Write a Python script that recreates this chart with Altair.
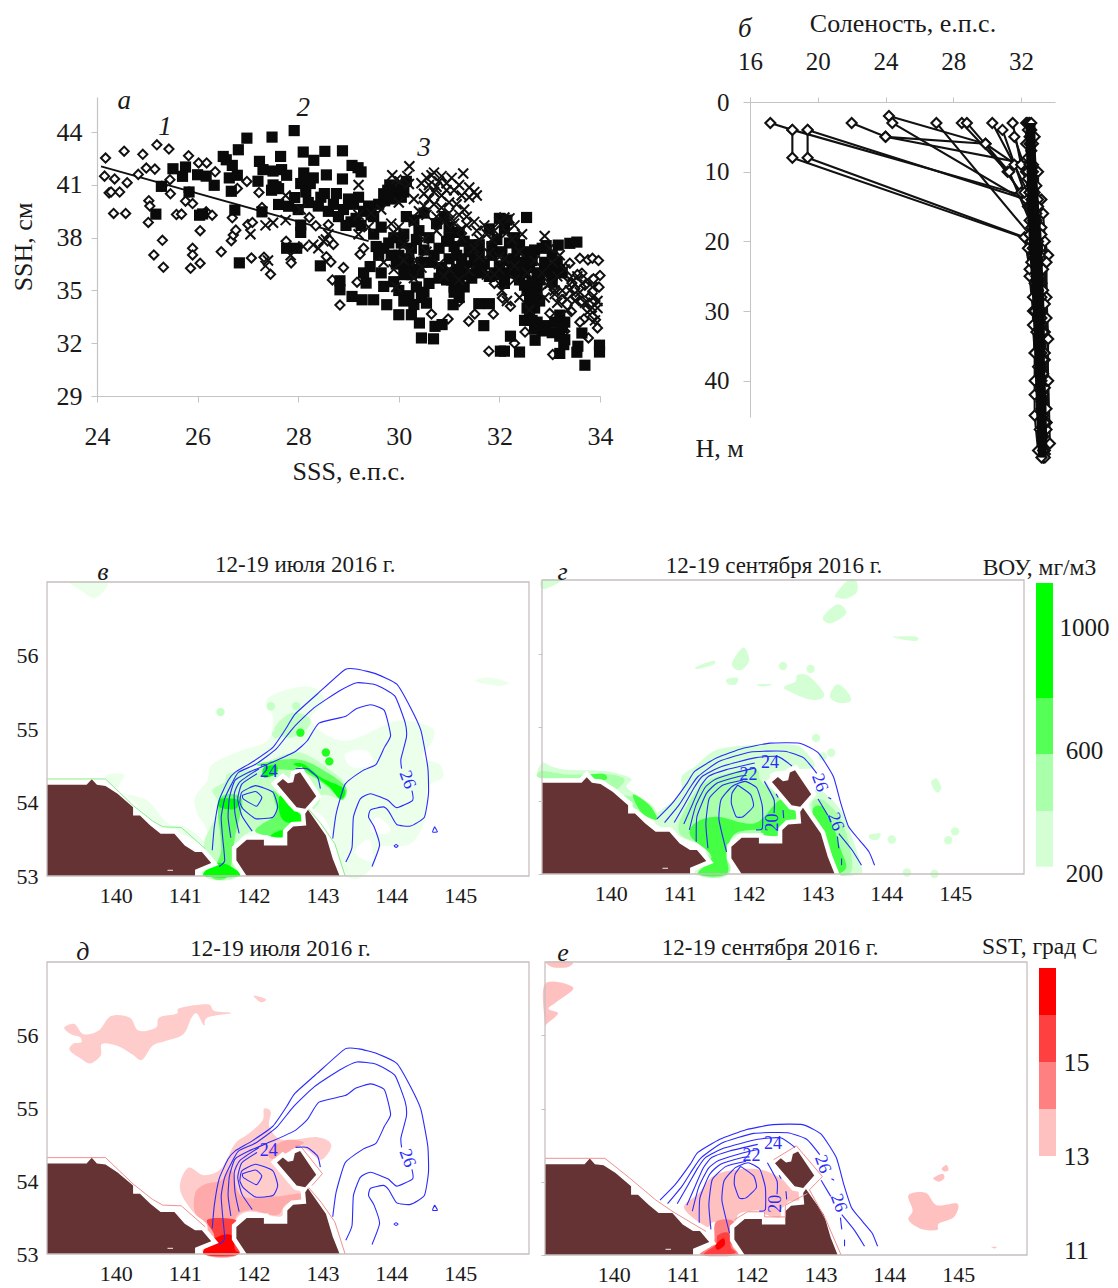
import altair as alt
import pandas as pd

# ---------- panel a: SSS / SSH scatter ----------
DIAMONDS = [(24.17,42.53),(24.15,41.5),(24.35,41.34),(24.6,41.13),(24.54,42.92),(24.91,42.74),(24.82,41.6),(24.98,41.96),
(25.15,41.9),(25.19,43.28),(25.43,43.04),(25.45,41.3),(24.24,40.55),(24.28,40.6),(24.45,40.6),(24.33,39.38),(24.57,39.38),
(25.03,40.1),(25.05,39.8),(25.02,38.87),(25.29,40.92),(25.46,40.5),(25.13,37.02),(25.3,37.85),(25.32,36.32),(25.58,39.32),
(25.68,39.34),(25.76,40.08),(25.9,39.94),(25.83,40.6),(25.82,42.66),(26.02,42.25),(26.18,42.25),(26.35,41.75),(26.17,39.47),
(26.29,39.28),(26.05,38.4),(25.9,37.4),(25.9,37.02),(25.86,36.26),(26.05,36.55),(26.47,37.2),(26.67,37.83),(26.71,38.15),
(26.76,38.43),(26.69,39.13),(26.79,40.8),(26.98,41.2),(27.0,38.75),(27.09,38.87),(27.07,36.85),(27.22,40.57),(27.28,39.72),
(27.32,36.89),(27.45,35.92),(27.76,37.8),(27.86,36.57),(28.22,39.15),(28.35,38.68),(28.56,36.92),(28.65,36.62),(28.7,37.62),
(28.6,38.74),(28.68,35.6),(28.9,36.3),(28.83,34.17),(29.17,35.47),(29.23,37.06),(29.3,37.4),(30.65,33.66),(30.98,33.38),
(31.2,34.38),(31.39,33.25),(31.51,33.66),(31.79,31.55),(31.88,33.66),(32.3,32.0),(32.51,32.64),(33.06,31.36),(33.4,36.55),
(33.6,36.83),(33.64,35.98),(33.44,35.42),(33.43,33.8),(33.3,32.68),(33.68,33.38),(33.77,32.3),(33.76,36.74),(33.85,36.83),
(33.97,36.7),(34.0,35.85),(33.87,35.66),(33.98,35.19),(33.8,34.66),(33.64,34.38),(33.83,33.8),(33.95,32.87),(33.91,33.34),
(33.52,34.66),(31.9,35.4),(32.06,34.57),(32.22,34.1),(32.7,34.85),(33.09,35.04),(33.24,34.47),(33.0,33.7),(33.55,35.9),
(33.7,35.3),(33.35,35.8),(33.9,34.4),(33.75,34.0),(33.5,35.1),(33.6,33.2),(33.85,33.5)]

SQUARES = [(27.92,44.09),(26.98,43.66),(27.48,43.72),(28.1,42.87),(28.53,42.91),(28.88,42.94),(28.31,42.4),(27.65,42.62),
(26.81,43.0),(26.51,42.62),(26.57,42.43),(26.69,42.11),(27.23,42.34),(27.3,41.87),(27.5,41.79),(27.67,41.87),(27.77,41.55),
(26.63,41.4),(26.79,41.55),(26.0,41.58),(26.17,41.5),(25.51,41.92),(25.76,42.02),(25.7,41.49),(26.33,40.98),(27.2,41.21),
(26.67,40.64),(26.74,39.57),(27.47,40.7),(27.61,40.79),(27.5,41.0),(27.56,40.9),(28.11,41.68),(28.17,41.26),(28.05,41.08),
(28.24,41.08),(28.56,41.57),(28.88,41.34),(29.07,42.11),(29.19,41.98),(29.25,41.74),(28.52,40.51),(28.76,40.51),(27.93,40.28),
(27.61,39.89),(27.81,39.79),(27.28,39.47),(25.17,39.34),(25.28,40.92),(26.04,39.28),(26.1,39.35),(25.83,40.6),(26.83,36.57),
(28.05,38.3),(28.05,38.72),(27.77,37.4),(27.97,37.4),(28.44,36.4),(28.83,35.55),(28.83,35.04),(29.07,34.66),(29.27,34.47),
(29.5,34.47),(29.7,35.23),(29.35,35.42),(29.43,36.36),(29.76,34.19),(30.0,33.62),(30.25,33.62),(30.41,33.15),(30.45,32.3),
(30.69,32.25),(30.72,32.96),(30.86,33.06),(30.55,34.28),(31.08,34.19),(31.69,33.0),(31.59,34.25),(31.8,34.25),(32.02,31.55),
(32.1,31.55),(32.22,32.4),(32.4,31.5),(32.54,39.15),(32.71,32.17),(33.2,31.42),(33.28,31.92),(33.54,31.49),(33.56,31.83),
(33.7,30.75),(33.99,31.89),(33.99,31.5),(33.64,32.58),(32.93,37.55),(33.17,37.58),(33.4,37.68),(33.54,37.75),
(29.7,40.5),(29.82,41.0),(29.95,40.4),(30.05,40.3),(29.78,40.7),(29.9,40.7),(30.1,40.6),(29.6,39.9),(29.4,39.8),(29.3,39.5),
(29.1,39.9),(29.0,40.2),(28.9,39.6),(28.8,39.2),(29.05,38.9),(29.25,38.7),(28.4,39.8),(28.6,39.5),(28.2,40.0),(28.0,39.6),
(29.65,38.6),(29.8,37.7),(29.9,38.0),(30.1,38.2),(30.15,39.2),(30.3,39.0),(30.5,39.4),(30.4,38.4),(30.6,38.0),(30.8,37.4),
(30.0,37.0),(30.2,36.8),(30.1,35.9),(30.4,36.0),(30.6,35.4),(30.5,34.9),(30.2,34.7),(30.0,35.0),(30.35,35.2),(30.7,37.0),
(31.0,38.6),(31.0,38.0),(31.1,37.5),(31.0,36.8),(31.15,36.2),(30.95,35.6),(31.1,35.2),(31.3,37.8),(31.4,37.2),(31.5,36.6),
(31.3,36.4),(31.6,37.6),(31.65,36.0),(31.45,35.7),(31.8,38.5),(31.85,37.0),(32.0,39.1),(32.1,38.5),(32.2,37.7),(32.0,36.4),
(32.2,36.0),(32.1,35.4),(32.3,36.8),(32.45,36.6),(32.55,37.2),(32.7,37.3),(32.85,37.4),(32.6,36.3),(32.4,35.6),(32.55,35.0),
(32.6,34.5),(32.7,34.0),(32.6,33.6),(32.75,33.2),(32.85,32.7),(33.05,32.6),(33.2,33.6),(33.3,33.2),(32.8,35.6),(33.0,36.3),
(33.15,36.6),(33.25,36.0),(33.05,35.5),(32.9,36.6),(32.5,33.3),(29.3,36.0),(29.55,37.5),(29.5,38.2),(33.2,32.4),(33.3,32.2),
(29.85,40.2),(30.0,40.9),(29.72,40.1),(30.15,41.2),(29.2,40.3),(29.45,39.3),(29.15,39.1),(28.95,38.7),(28.7,39.9),(28.45,40.3),
(28.15,40.6),(28.3,41.4),(29.5,39.2),(29.7,37.4),(29.6,37.0),(29.85,37.0),(30.05,37.7),(30.25,37.4),(30.35,37.9),(30.5,37.3),
(30.65,36.6),(30.45,36.6),(30.3,36.2),(30.85,36.3),(30.75,38.8),(30.9,39.2),(30.95,37.8),(31.15,37.0),(31.25,36.8),(31.2,38.3),
(31.45,37.6),(31.6,37.0),(31.55,36.3),(31.7,36.5),(31.35,35.9),(31.2,35.8),(31.0,36.0),(31.85,37.5),(31.95,37.9),(32.05,37.2),
(32.15,36.7),(32.25,36.4),(32.35,37.3),(32.5,36.0),(32.65,36.7),(32.75,36.0),(32.9,36.1),(33.05,37.0),(33.2,36.2),(32.35,36.0),
(32.5,35.3),(32.65,35.5),(32.75,35.0),(32.8,34.4),(32.55,34.0),(32.65,33.3),(32.7,32.8),(32.9,33.0),(33.1,33.2),(33.25,32.9),
(30.1,34.4),(30.3,34.2),(30.45,34.6),(30.25,35.9),(29.9,35.5),(29.65,36.0),(29.95,36.5),(30.15,36.3),(31.9,36.0),(31.8,35.8),
(32.0,35.9),(31.05,35.6),(30.8,35.7),(31.3,35.2),(31.2,34.6),(31.1,34.9),(32.3,38.0),(32.15,39.0),(32.4,37.6),(33.05,35.9)]

CROSSES = [(30.21,42.06),(29.87,41.55),(29.95,41.3),(30.02,41.2),(30.17,41.5),(30.2,41.05),(29.2,41.0),(30.55,41.4),(30.7,41.7),
(30.85,41.5),(30.6,41.0),(31.28,41.65),(31.05,41.4),(30.95,41.1),(31.2,41.0),(31.5,40.6),(31.4,40.3),(30.7,40.6),(30.85,40.4),
(30.5,39.8),(30.4,39.5),(30.7,39.9),(31.0,40.0),(31.15,39.9),(31.3,39.6),(31.35,39.2),(30.75,39.2),(30.3,38.9),(31.5,38.9),
(31.7,38.7),(31.9,38.4),(32.0,38.9),(32.1,39.15),(32.2,39.1),(32.3,38.7),(32.45,38.2),(32.9,38.1),(33.0,37.4),(33.2,37.0),
(27.05,38.2),(27.35,38.7),(27.5,38.85),(27.35,36.4),(27.4,36.7),(27.75,39.0),(27.75,40.4),(28.05,39.6),(28.1,37.5),(28.3,37.6),
(28.4,37.4),(28.55,37.9),(27.85,37.0),(29.45,39.4),(29.2,39.3),(29.65,39.6),(29.85,38.8),(29.9,38.3),(29.9,36.2),(30.3,35.7),
(30.45,36.3),(29.95,35.2),(29.7,36.6),(29.4,38.6),(28.6,38.2),(28.5,37.8),(30.1,37.6),(30.5,37.9),(30.75,38.4),(31.1,38.8),
(31.25,38.0),(31.5,37.4),(31.6,36.9),(31.4,36.1),(31.75,35.9),(31.9,35.9),(32.0,36.9),(32.05,35.0),(32.15,34.4),(32.3,35.6),
(32.4,34.6),(32.55,36.0),(32.7,36.7),(32.85,36.0),(33.0,35.4),(33.15,35.8),(33.25,35.0),(33.35,34.5),(33.15,34.3),(33.05,36.6),
(33.45,35.5),(33.6,34.9),(33.7,34.3),(33.85,34.6),(33.95,34.4),(33.8,33.9),(33.9,33.3),(33.55,35.8),(33.3,36.2),(31.0,36.2),
(30.8,36.5),(30.9,35.8),(31.2,35.6),(30.2,37.2),(30.3,40.2),(30.0,40.0),(30.6,40.2),(31.0,39.4),(32.6,33.9),(32.9,34.6),(29.2,38.2),
(30.45,41.1),(30.65,41.55),(30.8,41.2),(30.75,40.9),(30.95,40.7),(31.1,40.7),(31.25,40.4),(31.4,40.85),(31.55,40.4),(30.5,40.5),
(30.55,39.3),(30.85,39.7),(31.05,39.1),(31.2,39.3),(31.35,38.7),(31.55,38.4),(31.25,38.5),(30.9,38.9),(31.75,38.2),(31.85,37.9),
(32.15,38.3),(32.25,37.9),(32.4,37.2),(32.1,36.8),(32.3,36.4),(32.0,36.2),(31.8,37.1),(31.6,37.9),(33.1,35.0),(33.4,35.0),(33.5,34.4),
(33.65,35.4),(33.75,35.6),(33.85,35.2),(33.95,34.0),(33.35,33.9),(33.1,34.8),(32.95,35.3),(30.1,36.7),(30.35,36.7),(30.55,37.2),(30.0,38.6)]

TREND_SSS = [24.08, 29.4]
TREND_SSH = [42.05, 37.8]

# ---------- panel b: salinity profiles ----------
PROFILES = [
 [(17.2,3),(18.5,4),(18.5,8),(32.3,19.6),(32.4,21),(32.5,25),(32.7,30),(32.8,36),(32.9,40),(33.0,45),(33.1,50)],
 [(19.4,4),(19.4,8),(32.2,19.4),(32.5,24),(32.8,30),(33.0,36),(33.1,42),(33.2,50)],
 [(18.5,4),(32.4,13.6),(32.7,18),(33.0,24),(33.1,30),(33.2,36),(33.3,44),(33.3,50)],
 [(19.4,4),(32.3,14),(32.9,20),(33.2,26),(33.3,34),(33.3,40),(33.4,50.5)],
 [(22.0,3),(24.0,5),(32.4,8.9),(32.6,12),(33.0,18),(33.3,22),(33.4,28),(33.4,36),(33.5,46)],
 [(24.0,5),(29.9,6),(32.3,10),(32.7,15),(33.0,20),(33.2,30),(33.4,40),(33.3,48)],
 [(24.2,2),(29.9,6),(32.0,13),(32.8,19),(33.1,25),(33.2,32),(33.3,42),(33.4,50)],
 [(24.4,3),(32.8,15),(33.1,20),(33.3,27),(33.4,33),(33.4,41),(33.5,47)],
 [(27.0,3),(32.5,19),(32.9,23),(33.1,30),(33.2,38),(33.3,45),(33.3,51)],
 [(28.5,3),(31.2,10),(32.4,15),(32.6,20),(33.0,27),(33.1,34),(33.2,44)],
 [(28.8,3),(31.3,10),(32.5,17),(32.7,21),(33.0,28),(33.2,36),(33.4,46)],
 [(30.3,3),(31.6,9),(32.6,14),(32.8,18),(33.0,23),(33.3,31),(33.5,40)],
 [(30.9,4),(32.2,13),(32.7,17),(33.0,22),(33.2,29),(33.4,37)],
 [(31.5,3),(32.0,9),(32.5,13),(33.2,14),(33.3,16),(33.4,20),(33.5,28),(33.6,34),(33.5,46)],
 [(31.6,5),(32.3,10),(33.0,10),(33.0,14),(33.2,18),(33.6,22),(33.5,23),(33.5,31),(33.6,40),(33.7,49)],
 [(32.3,3),(32.3,6),(32.4,10),(32.5,13),(32.6,18),(32.7,21),(32.8,26),(32.7,32),(32.8,36),(32.8,40),(32.8,42),(32.8,45),(33.0,50)],
 [(32.4,3),(32.5,5),(32.8,5),(32.6,9),(32.7,12),(32.9,16),(33.0,20),(33.1,26),(33.2,31),(33.3,39),(33.4,46),(33.3,51)],
 [(32.5,3),(32.6,4),(32.6,7),(32.7,10),(32.8,13),(32.9,17),(33.1,22),(33.2,28),(33.3,33),(33.2,40),(33.3,50)],
 [(32.6,3),(32.7,6),(32.7,9),(32.9,12),(33.0,15),(33.2,19),(33.3,24),(33.4,29),(33.3,37),(33.5,44),(33.4,51)],
 [(32.4,4),(32.4,8),(32.4,11),(32.5,15),(32.5,19),(32.6,23),(32.7,28),(32.9,33),(33.0,38),(33.1,47),(33.2,51)],
 [(32.5,6),(32.5,9),(32.6,15),(32.7,22),(32.9,25),(33.0,31),(33.1,35),(33.2,43),(33.3,48)],
]
BAND = [
 [(32.35,3),(32.4,8),(32.45,12),(32.5,17),(32.6,22),(32.75,28),(32.85,34),(32.95,41),(33.05,48),(33.1,51)],
 [(32.5,3),(32.5,8),(32.6,12),(32.7,17),(32.8,22),(32.9,28),(33.0,34),(33.1,41),(33.15,48),(33.2,51)],
 [(32.65,3),(32.65,8),(32.75,12),(32.85,17),(32.95,22),(33.05,28),(33.1,34),(33.2,41),(33.25,48),(33.3,51)],
 [(32.75,3),(32.75,9),(32.9,13),(33.0,17),(33.1,22),(33.2,28),(33.25,34),(33.3,41),(33.35,48),(33.4,51)],
 [(32.55,4),(32.55,10),(32.65,14),(32.75,19),(32.85,24),(32.95,30),(33.05,37),(33.15,44),(33.2,50)],
 [(32.45,5),(32.45,11),(32.55,15),(32.65,20),(32.7,25),(32.85,31),(32.9,37),(33.0,44),(33.1,50)],
 [(32.6,5),(32.7,11),(32.8,15),(32.95,20),(33.05,25),(33.1,31),(33.2,37),(33.25,44),(33.3,50)],
 [(32.7,4),(32.85,11),(32.95,15),(33.1,19),(33.2,25),(33.3,31),(33.3,37),(33.4,44),(33.45,50)],
]

# ---------- maps: contours ----------
CONTOURS_JUL = [
 [(141.40,53.35),(141.43,53.67),(141.50,54.03),(141.63,54.30),(141.73,54.41),(141.98,54.55),(142.28,54.75),(142.48,55.02),(142.60,55.20),(142.93,55.48),(143.33,55.81),(143.53,55.81),(143.78,55.75),(144.08,55.61),(144.28,55.29),(144.43,54.98),(144.53,54.48),(144.54,54.12),(144.48,53.80),(144.28,53.68),(144.08,53.70),(143.97,53.87),(143.89,53.94),(143.70,53.90),(143.67,53.80),(143.75,53.67),(143.83,53.42),(143.72,53.13)],
 [(141.50,53.13),(141.58,53.21),(141.55,53.53),(141.53,53.80),(141.58,54.05),(141.68,54.25),(141.78,54.41),(142.03,54.52),(142.33,54.73),(142.58,55.02),(142.88,55.29),(143.25,55.52),(143.50,55.63),(143.78,55.60),(144.05,55.45),(144.20,55.09),(144.22,54.89),(144.14,54.59),(144.15,54.46)],
 [(144.30,54.16),(144.31,54.03),(144.08,53.93),(143.95,54.03),(143.70,54.12),(143.55,54.05),(143.45,53.80),(143.43,53.39),(143.34,53.19)],
 [(143.15,53.51),(143.20,53.85),(143.33,54.25),(143.58,54.43),(143.78,54.52),(143.90,54.75),(143.99,54.91),(143.90,55.25),(143.70,55.33),(143.48,55.27),(143.33,55.17),(142.95,55.08),(142.78,54.84),(142.60,54.69),(142.28,54.55),(141.93,54.41),(141.73,54.30),(141.65,54.07),(141.63,53.80),(141.67,53.52)],
 [(141.79,53.58),(141.73,53.85),(141.72,54.12),(141.80,54.28),(142.08,54.46)],
 [(141.98,53.61),(141.83,53.82),(141.77,54.05),(141.83,54.25),(142.05,54.39)],
 [(141.80,54.00),(141.83,54.14),(142.03,54.23),(142.28,54.14),(142.35,53.94),(142.28,53.80),(142.03,53.78),(141.85,53.91),(141.80,54.00)],
 [(141.84,54.10),(142.03,54.15),(142.12,54.07),(142.04,53.95),(141.85,54.05),(141.84,54.10)],
 [(142.61,54.46),(142.78,54.46),(142.93,54.34),(142.97,54.19)],
 [(144.63,53.67),(144.67,53.60),(144.60,53.60),(144.63,53.67)],
 [(144.07,53.43),(144.10,53.41),(144.07,53.39),(144.04,53.41),(144.07,53.43)],
]
CONTOURS_SEP = [
 [(140.67,53.75),(140.89,53.96),(141.11,54.24),(141.22,54.40),(141.54,54.58),(141.92,54.71),(142.31,54.78),(142.74,54.78),(143.01,54.65),(143.23,54.33),(143.34,53.96),(143.45,53.65),(143.61,53.46),(143.75,53.30),(143.83,53.12)],
 [(140.78,53.70),(140.99,53.94),(141.16,54.19),(141.27,54.33),(141.57,54.53),(142.03,54.66),(142.52,54.67),(142.80,54.58),(142.99,54.37)],
 [(143.16,54.04),(143.20,54.02)],
 [(143.31,53.55),(143.50,53.33),(143.64,53.12)],
 [(143.01,54.02),(143.15,53.80)],
 [(143.29,53.51),(143.31,53.35)],
 [(143.35,53.21),(143.35,53.12)],
 [(140.92,53.70),(141.08,53.96),(141.22,54.19),(141.33,54.33),(141.60,54.46),(142.09,54.58),(142.42,54.60),(142.63,54.47)],
 [(141.06,53.68),(141.19,53.96),(141.30,54.19),(141.42,54.33),(141.68,54.42),(142.09,54.51)],
 [(141.14,53.60),(141.23,53.92),(141.37,54.18),(141.52,54.29),(141.82,54.38),(142.09,54.44)],
 [(141.24,53.44),(141.25,53.78),(141.39,54.10),(141.55,54.24),(141.87,54.33),(141.97,54.34)],
 [(141.41,53.35),(141.38,53.69),(141.43,54.03),(141.63,54.21),(141.92,54.28)],
 [(142.23,54.26),(142.37,54.01),(142.37,53.83)],
 [(141.68,53.30),(141.57,53.74),(141.60,54.01),(141.76,54.19),(141.95,54.26),(142.12,54.17),(142.20,53.92),(142.20,53.62),(142.11,53.60)],
 [(141.84,54.21),(142.03,54.08),(142.07,53.92),(141.92,53.78),(141.82,53.78),(141.75,53.96),(141.76,54.10),(141.84,54.21)],
 [(142.50,53.87),(142.51,53.76)],
 [(142.40,54.09),(142.43,54.04)],
]

# ---------- maps: land ----------
LAND = [
 [(139,54.24),(139.575,54.24),(139.65,54.317),(139.725,54.24),(139.85,54.226),(140.025,54.118),(140.25,53.937),(140.25,53.824),(140.35,53.824),(140.5,53.688),(140.65,53.575),(140.85,53.575),(141.0,53.416),(141.15,53.326),(141.25,53.326),(141.385,53.176),(141.15,53.086),(141.15,53),(139,53)],
 [(141.9,53),(141.75,53.213),(141.75,53.371),(141.9,53.493),(142.15,53.493),(142.15,53.416),(142.49,53.416),(142.49,53.597),(142.575,53.674),(142.765,53.688),(142.75,53.846),(142.79,53.9),(143.05,53.552),(143.15,53.235),(143.25,53)],
 [(142.34,54.253),(142.425,54.321),(142.5,54.262),(142.575,54.276),(142.6,54.38),(142.675,54.412),(142.91,54.086),(142.75,53.914),(142.625,53.937)],
]
LAND_SPECK = [[(140.75,53.085),(140.83,53.085),(140.83,53.07),(140.75,53.07)]]
COAST_GREEN = [
 [(139,54.32),(139.85,54.32),(140.05,54.14),(140.25,53.96),(140.53,53.75),(140.68,53.67),(140.95,53.66),(141.30,53.37)],
 [(142.80,53.91),(142.98,53.71),(143.18,53.44),(143.33,53)],
]
COAST_RED_JUL = COAST_GREEN + [
 [(142.60,54.48),(142.68,54.48),(143.00,54.10),(142.85,53.94)],
]
COAST_RED_SEP = [
 [(139,54.32),(139.87,54.32),(140.23,54.05),(140.61,53.75),(140.86,53.59),(141.34,53.32)],
 [(142.32,54.30),(142.65,54.49),(143.03,54.07),(142.84,53.89),(143.08,53.48),(143.30,53)],
 [(141.75,53.48),(141.94,53.59),(142.19,53.59),(142.19,53.52),(142.49,53.52),(142.49,53.68),(142.73,53.80),(142.81,53.84)],
]

# ---------- maps: chlorophyll fill areas, July ----------
CHL_JUL_0 = [
 [(141.15,54.07),(141.33,54.30),(141.40,54.52),(141.83,54.71),(142.20,54.84),(142.28,55.16),(142.18,55.38),(142.43,55.52),(142.83,55.57),(143.03,55.38),(142.83,55.11),(143.33,54.84),(144.08,55.11),(144.58,55.02),(144.60,54.84),(144.45,54.62),(144.70,54.52),(144.75,54.34),(144.53,54.21),(144.50,53.80),(144.28,53.44),(143.83,53.39),(143.73,53.12),(143.35,53.0),(142.83,53.89),(141.28,53),(141.33,53.57),(141.18,53.85)],
 [(139.35,57),(139.85,57),(139.83,56.88),(139.68,56.78),(139.5,56.88)],
 [(145.22,55.65),(145.42,55.70),(145.7,55.63),(145.55,55.59)],
 [(139.85,54.36),(140.12,54.38),(140.05,54.16),(140.45,54.03),(140.75,53.72),(141.05,53.65),(141.35,53.4),(141.0,53.55),(140.6,53.72),(140.25,53.98),(140.0,54.2)],
]
CHL_JUL_HOLES = [
 [(143.33,54.66),(143.63,54.71),(143.73,54.52),(143.43,54.48)],
 [(143.78,53.80),(143.98,53.67),(143.93,53.57),(143.70,53.62)],
 [(143.47,53.32),(143.68,53.50),(143.72,53.2)],
]
CHL_JUL_1 = [
 [(141.28,53.44),(141.38,53.67),(141.53,53.94),(141.40,54.16),(141.58,54.28),(141.65,54.40),(142.13,54.48),(142.28,54.59),(142.68,54.68),(143.13,54.43),(143.34,54.23),(143.28,54.05),(143.00,54.10),(142.83,53.89),(141.83,53.53),(141.78,53),(141.28,53)],
 [(142.3,55.0),(142.55,55.22),(142.82,55.14),(142.75,54.98),(142.5,54.88)],
]
CHL_JUL_2 = [
 [(141.49,54.03),(141.83,54.05),(141.73,53.53),(141.63,53),(141.38,53),(141.53,53.35)],
 [(142.05,54.52),(142.63,54.59),(143.03,54.43),(143.34,54.21),(143.28,54.03),(143.08,54.21),(142.73,54.41),(142.33,54.46)],
 [(142.28,54.16),(142.48,53.98),(142.75,53.76),(142.50,53.67),(142.33,53.54),(142.03,53.60),(142.13,53.71),(142.33,53.85)],
]
CHL_JUL_3 = [
 [(141.53,54.05),(141.78,54.03),(141.73,53.91),(141.50,53.94)],
 [(141.45,53.17),(141.65,53.14),(141.80,53),(141.28,53)],
 [(142.38,54.09),(142.53,53.94),(142.72,53.81),(142.71,53.73),(142.48,53.73),(142.38,53.85)],
 [(142.33,53.60),(142.50,53.64),(142.43,53.53),(142.25,53.54)],
 [(142.58,54.52),(142.73,54.52),(142.98,54.34),(143.28,54.21),(143.33,54.12),(143.25,54.05),(143.08,54.23),(142.78,54.43)],
 [(142.15,54.48),(142.33,54.50),(142.33,54.39),(142.15,54.34)],
]
CHL_JUL_BLOBS_1 = [(142.25,55.31),(142.62,55.31),(142.33,54.93),(141.52,55.23)]
CHL_JUL_BLOBS_3 = [(143.10,54.56),(143.05,54.68),(142.68,54.95)]

# ---------- maps: chlorophyll fill areas, September ----------
CHL_SEP_0 = [
 [(139,57),(139.28,57),(139.15,56.92),(139,56.88)],
 [(143.26,56.80),(143.45,57),(143.57,56.98),(143.57,56.83),(143.42,56.75),(143.29,56.76)],
 [(143.08,56.49),(143.29,56.67),(143.42,56.55),(143.20,56.41)],
 [(144.11,56.23),(144.43,56.23),(144.43,56.17),(144.18,56.20)],
 [(141.76,55.87),(141.92,56.08),(142.01,55.92),(141.92,55.79),(141.82,55.78)],
 [(141.24,55.82),(141.49,55.90),(141.49,55.85),(141.27,55.79)],
 [(141.68,55.65),(141.84,55.67),(141.82,55.58),(141.71,55.58)],
 [(142.12,55.58),(142.34,55.58),(142.20,55.55)],
 [(142.52,55.55),(142.68,55.62),(142.71,55.71),(142.88,55.69),(143.10,55.44),(142.91,55.37),(142.58,55.49)],
 [(143.18,55.42),(143.29,55.58),(143.45,55.46),(143.48,55.35),(143.31,55.33)],
 [(144.65,54.24),(144.73,54.30),(144.80,54.17),(144.73,54.11)],
 [(143.75,53.53),(143.91,53.55),(143.88,53.47),(143.78,53.47)],
 [(140.62,53.74),(141.0,54.08),(141.03,54.33),(141.22,54.46),(141.54,54.69),(142.09,54.76),(142.63,54.76),(142.80,54.69),(142.96,54.46),(142.63,54.42),(142.31,54.33),(142.74,53.92),(142.63,53.65),(141.76,53.46),(141.71,53),(141.22,53),(141.38,53.33),(141.0,53.51)],
 [(142.88,53.92),(143.01,54.15),(143.34,53.87),(143.5,53.51),(143.64,53.1),(143.61,53),(143.29,53),(143.18,53.33)],
 [(139,54.51),(139.15,54.46),(139.36,54.42),(139.91,54.40),(140.29,54.30),(140.24,54.17),(140.62,53.92),(140.67,53.74),(140.51,53.83),(140.13,54.05),(139.86,54.28),(139,54.30)],
]
CHL_SEP_BLOBS_0 = [(142.9,55.79),(142.5,55.83),(143.2,54.65),(143.08,54.60),(144.08,53.47),(144.9,53.46),(145.0,53.58),(144.3,53.02),(144.7,53.0),(142.98,54.85)]
CHL_SEP_1 = [
 [(141.10,53.92),(141.43,54.28),(142.09,54.42),(142.20,54.24),(142.74,53.83),(142.36,53.55),(141.76,53.51),(141.71,53),(141.27,53),(141.43,53.33),(141.0,53.55)],
 [(139,54.40),(139.4,54.35),(139.95,54.36),(140.2,54.28),(140.0,54.12),(139.8,54.3),(139,54.3)],
 [(140.05,54.08),(140.4,54.02),(140.68,53.78),(140.45,53.83),(140.2,54.0)],
 [(142.92,53.90),(143.05,54.02),(143.3,53.8),(143.45,53.45),(143.5,53.05),(143.3,53),(143.2,53.33)],
]
CHL_SEP_2 = [
 [(141.22,53.69),(141.54,53.78),(142.09,53.69),(142.47,54.01),(142.71,53.80),(142.58,53.69),(142.47,53.53),(142.22,53.53),(142.14,53.6),(141.81,53.55),(141.68,53.30),(141.68,53),(141.27,53),(141.46,53.24),(141.16,53.51)],
 [(142.93,53.83),(143.07,53.92),(143.23,53.65),(143.34,53.33),(143.42,53.1),(143.31,53),(143.29,53),(143.18,53.33)],
 [(140.32,54.08),(140.56,53.94),(140.67,53.74),(140.45,53.83)],
 [(139.62,54.34),(139.9,54.36),(139.92,54.28),(139.65,54.3)],
]

# ---------- maps: SST fill areas, July ----------
SST_JUL_0 = [
 [(139.25,56.10),(139.40,56.15),(139.53,56.01),(139.75,56.06),(139.93,56.26),(140.20,56.24),(140.33,56.06),(140.58,56.10),(140.63,56.24),(140.88,56.29),(140.93,56.37),(141.33,56.42),(141.43,56.33),(141.68,56.30),(141.33,56.24),(141.28,56.13),(141.18,56.29),(141.10,56.24),(140.98,56.01),(140.73,55.92),(140.53,55.85),(140.38,55.66),(140.23,55.74),(140.03,55.85),(139.80,55.88),(139.78,55.72),(139.63,55.61),(139.50,55.67),(139.33,55.79),(139.38,55.88),(139.50,55.90),(139.48,55.97),(139.35,56.01)],
 [(142.0,56.54),(142.18,56.49),(142.10,56.45)],
 [(140.93,53.90),(141.05,54.18),(141.28,54.08),(141.53,54.17),(141.73,54.51),(141.93,54.65),(142.13,54.83),(142.15,54.99),(142.25,54.95),(142.23,54.74),(142.43,54.56),(142.93,54.60),(143.13,54.49),(142.98,54.29),(142.78,54.42),(142.60,54.47),(142.28,54.26),(142.73,53.79),(142.48,53.65),(142.38,53.51),(141.93,53.58),(141.73,53.42),(141.78,53),(141.28,53),(141.38,53.33),(141.10,53.60)],
]
SST_JUL_1 = [
 [(141.15,53.83),(141.28,53.95),(141.53,54.01),(141.68,54.15),(141.83,53.79),(142.33,53.79),(142.68,53.83),(142.72,53.76),(142.48,53.69),(142.33,53.53),(141.93,53.60),(141.73,53.46),(141.78,53),(141.28,53),(141.33,53.38),(141.15,53.56)],
 [(142.22,54.42),(142.48,54.56),(142.73,54.53),(142.58,54.44),(142.28,54.30)],
]
SST_JUL_2 = [[(141.33,53.47),(141.73,53.47),(141.73,53.33),(141.78,53),(141.28,53),(141.43,53.24)]]
SST_JUL_3 = [[(141.45,53.22),(141.68,53.26),(141.73,53.06),(141.78,53),(141.28,53)]]

# ---------- maps: SST fill areas, September ----------
SST_SEP_0 = [
 [(139.03,57),(139.39,57),(139.33,56.93),(139.11,56.93)],
 [(139,56.70),(139.41,56.65),(139.16,56.45),(139.05,56.36),(139.19,56.30),(139.03,56.16),(139,56.16)],
 [(144.28,53.82),(144.53,53.85),(144.69,53.68),(144.99,53.70),(144.94,53.52),(144.72,53.43),(144.69,53.34),(144.45,53.36),(144.28,53.48),(144.34,53.61)],
 [(144.64,54.05),(144.77,54.11),(144.80,54.05),(144.72,54.0)],
 [(144.76,54.18),(144.83,54.23),(144.86,54.16),(144.80,54.14)],
 [(145.48,53.11),(145.56,53.11),(145.53,53.09)],
 [(141.02,53.64),(141.23,53.84),(141.51,54.11),(142.16,54.16),(142.73,53.84),(142.71,53.75),(142.54,53.70),(142.43,53.52),(142.21,53.55),(142.16,53.61),(141.83,53.57),(141.75,53.45),(141.45,53.45),(141.34,53.39)],
]
SST_SEP_1 = [[(141.48,53.45),(141.75,53.45),(141.72,53.14),(141.80,53),(141.26,53),(141.45,53.16)]]
SST_SEP_2 = [[(141.51,53.27),(141.67,53.30),(141.70,53.11),(141.75,53.02),(141.31,53),(141.48,53.14)]]
SST_SEP_3 = [[(141.48,53.14),(141.59,53.23),(141.61,53.14),(141.51,53.07)]]

# ---------- legends ----------
CHL_EDGES = [220, 402, 587, 769, 1143]
CHL_COLORS = ["#d4ffd4", "#aaffaa", "#55ff55", "#00ff00"]
CHL_TICKS = [200, 600, 1000]
SST_EDGES = [13, 14, 15, 16, 17]
SST_COLORS = ["#ffc0c0", "#ff8080", "#ff4040", "#ff0000"]
SST_TICKS = [11, 13, 15]
LON_TICKS = [140, 141, 142, 143, 144, 145]
LAT_TICKS = [53, 54, 55, 56]

# ---------- construction ----------
W, H = 1102, 1278
FONT = "Liberation Serif"
INK = "#1a1a1a"
GUIDE = "#c4c4c4"
FRAME = "#c8bfbf"
LAND_COLOR = "#653333"
BLUE = "#2a2aff"
layers = []


def sc(domain, a, b):
    return alt.Scale(domain=domain, range=[a - 8, b - 8], nice=False, zero=False)


def lines_df(lines):
    rows = []
    for k, line in enumerate(lines):
        for i, (x, y) in enumerate(line):
            rows.append({"k": k, "i": i, "x": x, "y": y})
    return pd.DataFrame(rows)


def add_poly(lines, sx, sy, fill, interp="cardinal-closed", **kw):
    mk = alt.Chart(lines_df(lines)).mark_line(filled=True, fill=fill, interpolate=interp,
                                              strokeWidth=0, **kw)
    layers.append(mk.encode(x=alt.X("x:Q", scale=sx, axis=None), y=alt.Y("y:Q", scale=sy, axis=None),
                            order=alt.Order("i:Q"), detail="k:N"))


def add_lines(lines, sx, sy, color, width=1.0, interp="cardinal"):
    mk = alt.Chart(lines_df(lines)).mark_line(color=color, strokeWidth=width, interpolate=interp, tension=0.5)
    layers.append(mk.encode(x=alt.X("x:Q", scale=sx, axis=None), y=alt.Y("y:Q", scale=sy, axis=None),
                            order=alt.Order("i:Q"), detail="k:N"))


def add_text(txt, x, y, sx, sy, size=20, color=INK, angle=0, style="normal", align="center"):
    df = pd.DataFrame({"x": [x], "y": [y], "t": [txt]})
    mk = alt.Chart(df).mark_text(font=FONT, fontSize=size, color=color, angle=angle, fontStyle=style,
                                 baseline="middle", align=align)
    layers.append(mk.encode(x=alt.X("x:Q", scale=sx, axis=None), y=alt.Y("y:Q", scale=sy, axis=None), text="t:N"))


def add_points(pairs, sx, sy, **kw):
    df = pd.DataFrame(pairs, columns=["x", "y"])
    mk = alt.Chart(df).mark_point(**kw)
    layers.append(mk.encode(x=alt.X("x:Q", scale=sx, axis=None), y=alt.Y("y:Q", scale=sy, axis=None)))


def add_blobs(pairs, sx, sy, color, size):
    df = pd.DataFrame(pairs, columns=["x", "y"])
    mk = alt.Chart(df).mark_circle(color=color, size=size, opacity=1)
    layers.append(mk.encode(x=alt.X("x:Q", scale=sx, axis=None), y=alt.Y("y:Q", scale=sy, axis=None)))


def add_axes(sx, sy, xaxis, yaxis):
    df = pd.DataFrame({"x": [sx.domain[0]], "y": [sy.domain[0]]})
    mk = alt.Chart(df).mark_point(opacity=0)
    layers.append(mk.encode(x=alt.X("x:Q", scale=sx, axis=xaxis), y=alt.Y("y:Q", scale=sy, axis=yaxis)))


def ax(orient, offset, values, size=22, **kw):
    base = dict(orient=orient, offset=offset, values=values, grid=False, labelFont=FONT, labelFontSize=size,
                labelColor=INK, labelOverlap=False, labelFlush=False, domainColor=GUIDE, tickColor=GUIDE,
                titleFont=FONT, titleFontWeight="normal", titleColor=INK, title=None, format="d")
    base.update(kw)
    return alt.Axis(**base)


# panel a
ax_x = sc([24, 34], 97, 600)
ax_y = sc([29, 46], 396, 97)
add_axes(ax_x, ax_y,
         ax("bottom", 396 - 8 - H, [24, 26, 28, 30, 32, 34], size=26, tickSize=6, labelPadding=21, domainWidth=1.2,
            title="SSS, е.п.с.", titleFontSize=26, titlePadding=9),
         ax("left", -(97 - 8), [29, 32, 35, 38, 41, 44], size=26, tickSize=6, labelPadding=9, domainWidth=1.2,
            title="SSH, см", titleFontSize=26, titlePadding=20))
add_lines([list(zip(TREND_SSS, TREND_SSH))], ax_x, ax_y, "#111111", 1.8, "linear")
add_points(DIAMONDS, ax_x, ax_y, shape="diamond", size=85, stroke="#111111", strokeWidth=2, fill="white", fillOpacity=1, opacity=1)
add_points(SQUARES, ax_x, ax_y, shape="square", size=125, color="#0a0a0a", filled=True, opacity=1)
add_points(CROSSES, ax_x, ax_y, shape="M-1,-1L1,1M-1,1L1,-1", size=100, stroke="#111111", strokeWidth=2, fill="transparent", opacity=1)
add_text("а", 24.54, 45.76, ax_x, ax_y, 27, style="italic")
add_text("1", 25.35, 44.28, ax_x, ax_y, 27, style="italic")
add_text("2", 28.1, 45.4, ax_x, ax_y, 27, style="italic")
add_text("3", 30.5, 43.1, ax_x, ax_y, 27, style="italic")

# panel b
bx = sc([16, 34], 750, 1055)
by = sc([0, 45.2], 102, 417)
add_axes(bx, by,
         ax("top", -(102 - 8), [16, 20, 24, 28, 32], size=25, tickSize=5, labelPadding=23, title="Соленость, е.п.с.",
            titleFontSize=26, titlePadding=13),
         ax("left", -(750 - 8), [0, 10, 20, 30, 40], size=25, tickSize=7, labelPadding=14))
add_lines(PROFILES, bx, by, "#111111", 2.1, "linear")
for prof in PROFILES:
    add_points(prof, bx, by, shape="diamond", size=100, stroke="#111111", strokeWidth=2.1, fill="white", fillOpacity=1, opacity=1)
add_lines(BAND, bx, by, "#0a0a0a", 3.4, "linear")
add_text("б", 15.7, -10.5, bx, by, 27, style="italic")
add_text("Н, м", 14.2, 49.8, bx, by, 26)


def map_panel(left, top, bottom, levels, holes, blobs, coast, coast_color, contours, contour_labels,
              show_lat, title, title_xy, mark, mark_xy):
    sx = sc([139, 146], left, left + 482)
    sy = sc([53, 57], bottom, top)
    for polys, color in levels:
        add_poly(polys, sx, sy, color)
    if holes:
        add_poly(holes, sx, sy, "white")
    for pairs, color, size in blobs:
        add_blobs(pairs, sx, sy, color, size)
    halo = alt.Chart(lines_df(LAND)).mark_line(filled=True, fill="white", stroke="white", strokeWidth=9,
                                               interpolate="linear-closed", strokeJoin="miter")
    layers.append(halo.encode(x=alt.X("x:Q", scale=sx, axis=None), y=alt.Y("y:Q", scale=sy, axis=None),
                              order=alt.Order("i:Q"), detail="k:N"))
    add_poly(LAND, sx, sy, LAND_COLOR, interp="linear-closed")
    add_poly(LAND_SPECK, sx, sy, "#e8dcdc", interp="linear-closed")
    if coast:
        add_lines(coast, sx, sy, coast_color, 1.0, "linear")
    add_lines(contours, sx, sy, BLUE, 1.1)
    for txt, x, y, ang in contour_labels:
        add_text(txt, x, y, sx, sy, 18, BLUE, ang)
    frame = alt.Chart(pd.DataFrame({"x": [139], "x2": [146], "y": [53], "y2": [57]})).mark_rect(
        fillOpacity=0, stroke=FRAME, strokeWidth=1.3)
    layers.append(frame.encode(x=alt.X("x:Q", scale=sx, axis=None), x2="x2:Q",
                               y=alt.Y("y:Q", scale=sy, axis=None), y2="y2:Q"))
    if show_lat:
        yaxis = ax("left", -(left - 8), LAT_TICKS, size=22, tickSize=0, labelPadding=9, domain=False, ticks=False)
    else:
        yaxis = ax("left", -(left - 8), LAT_TICKS, labels=False, tickSize=4, domain=False, zindex=1)
    add_axes(sx, sy, ax("bottom", bottom - 8 - H, LON_TICKS, size=22, tickSize=0, labelPadding=9, domain=False, ticks=False),
             yaxis)
    add_text(title, title_xy[0], title_xy[1], sx, sy, 23)
    add_text(mark, mark_xy[0], mark_xy[1], sx, sy, 26, style="italic")


LABELS_JUL = [("24", 142.22, 54.41, 0), ("26", 144.23, 54.31, 70)]
LABELS_SEP = [("24", 142.31, 54.51, 0), ("22", 142.0, 54.35, 0), ("20", 142.35, 53.70, 270),
              ("26", 143.03, 54.24, 70), ("26", 143.26, 53.71, 70)]

map_panel(47, 582, 876,
          [(CHL_JUL_0, "#ebffeb"), (CHL_JUL_1, "#c4ffc4"), (CHL_JUL_2, "#66ff66"), (CHL_JUL_3, "#00ff00")],
          CHL_JUL_HOLES, [(CHL_JUL_BLOBS_1, "#c4ffc4", 70), (CHL_JUL_BLOBS_3, "#20ff20", 70)],
          COAST_GREEN, "#88ee88", CONTOURS_JUL, LABELS_JUL, True, "12-19 июля 2016 г.", (142.75, 57.23), "в", (139.81, 57.14))
map_panel(542, 580, 874,
          [(CHL_SEP_0, "#d4ffd4"), (CHL_SEP_1, "#aaffaa"), (CHL_SEP_2, "#44ff44")],
          None, [(CHL_SEP_BLOBS_0, "#d4ffd4", 70)],
          None, "#88ee88", CONTOURS_SEP, LABELS_SEP, False, "12-19 сентября 2016 г.", (142.37, 57.19), "г", (139.3, 57.11))
map_panel(47, 962, 1254,
          [(SST_JUL_0, "#ffcccc"), (SST_JUL_1, "#ffaaaa"), (SST_JUL_2, "#ff4040"), (SST_JUL_3, "#ff0000")],
          None, [],
          COAST_RED_JUL, "#f09090", CONTOURS_JUL, LABELS_JUL, True, "12-19 июля 2016 г.", (142.39, 57.18), "д", (139.52, 57.14))
map_panel(545, 962, 1255,
          [(SST_SEP_0, "#ffc0c0"), (SST_SEP_1, "#ff8080"), (SST_SEP_2, "#ff4040"), (SST_SEP_3, "#ff0000")],
          None, [],
          COAST_RED_SEP, "#f09090", CONTOURS_SEP, LABELS_SEP, False, "12-19 сентября 2016 г.", (142.27, 57.19), "е", (139.26, 57.12))


def legend(edges, colors, ticks, x0, x1, sy, pad, title, tx, ty, size):
    sx = sc([0, 1], x0, x1)
    df = pd.DataFrame({"x": [0] * len(colors), "x2": [1] * len(colors), "y": edges[:-1], "y2": edges[1:], "c": colors})
    mk = alt.Chart(df).mark_rect(stroke=None).encode(
        x=alt.X("x:Q", scale=sx, axis=None), x2="x2:Q",
        y=alt.Y("y:Q", scale=sy, axis=ax("right", x1 - 8 - W, ticks, size=size, domain=False, ticks=False, tickSize=0,
                                         labelPadding=pad, labelAlign="center")),
        y2="y2:Q", color=alt.Color("c:N", scale=None))
    layers.append(mk)
    add_text(title, tx, ty, sc([0, 1], x0, x1), sy, 23.5)


legend(CHL_EDGES, CHL_COLORS, CHL_TICKS, 1036, 1053, sc([200, 1000], 873, 627), 31, "ВОУ, мг/м3", 0.2, 1193, 25)
legend(SST_EDGES, SST_COLORS, SST_TICKS, 1039, 1056, sc([11, 15], 1250, 1062), 20, "SST, град С", 0.05, 17.45, 26)

chart = alt.layer(*layers).resolve_scale(x="independent", y="independent", color="independent").properties(
    width=W, height=H, padding=0, autosize=alt.AutoSizeParams(type="none"), background="white"
).configure_view(stroke=None)

chart.save("out.html", embed_options={"renderer": "svg", "actions": False})
